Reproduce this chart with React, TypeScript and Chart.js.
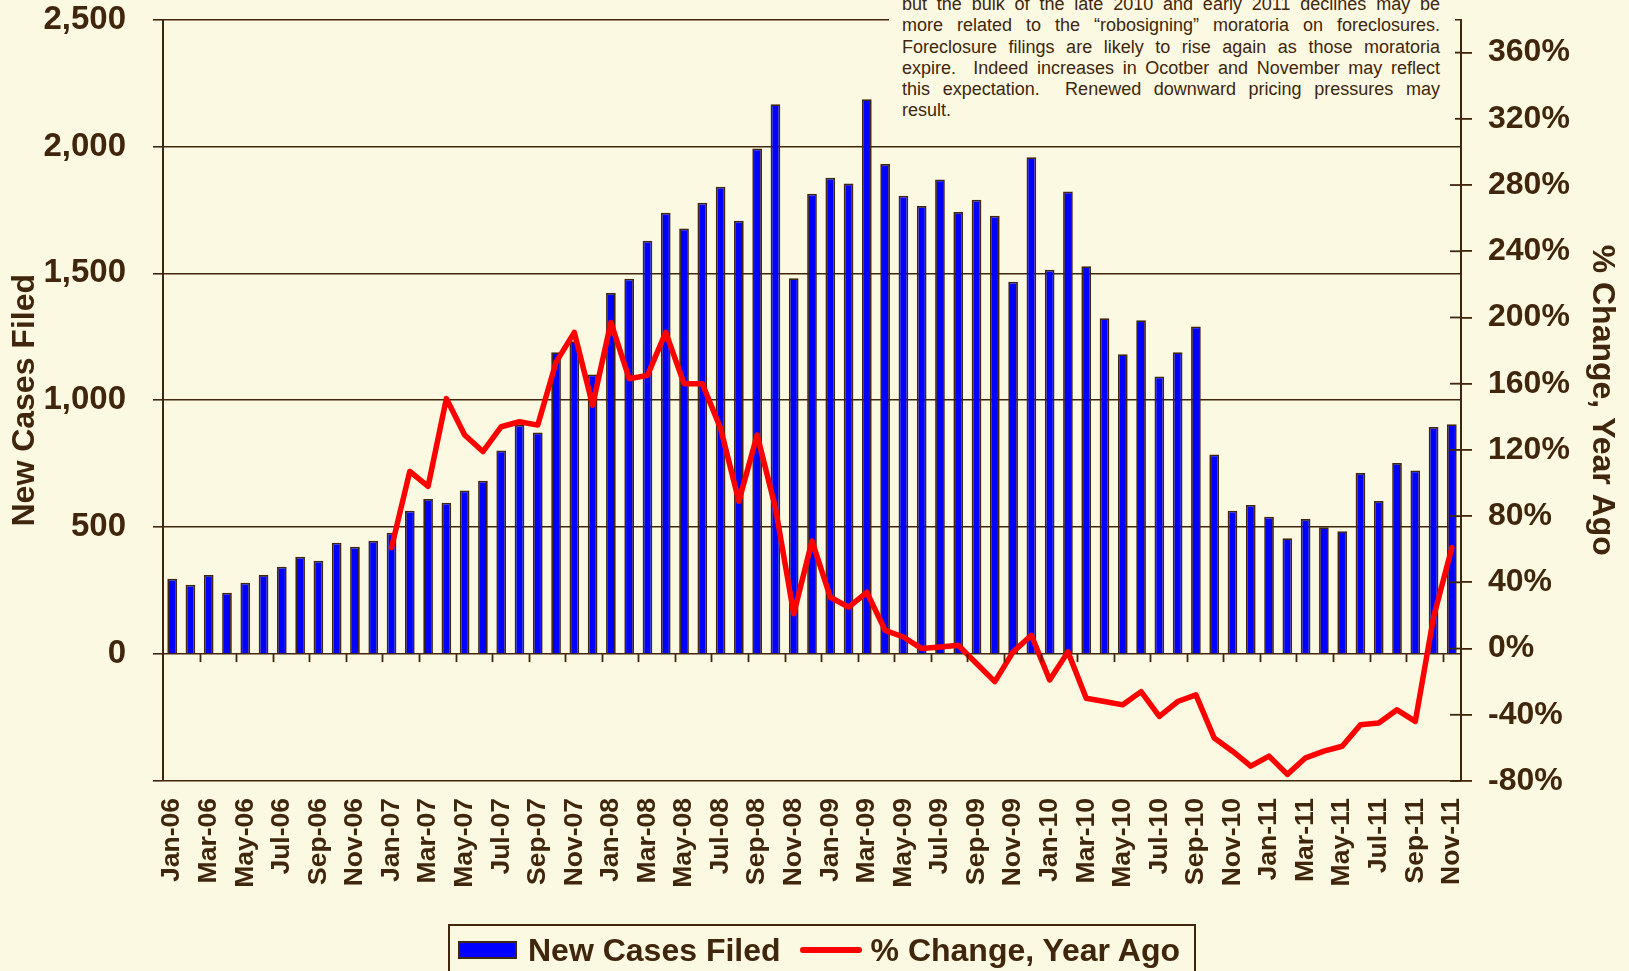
import React, { useEffect, useRef } from "react";
import { Chart, registerables } from "chart.js";

Chart.register(...registerables);

const months: string[] = [
  "Jan-06","Feb-06","Mar-06","Apr-06","May-06","Jun-06","Jul-06","Aug-06","Sep-06","Oct-06","Nov-06","Dec-06",
  "Jan-07","Feb-07","Mar-07","Apr-07","May-07","Jun-07","Jul-07","Aug-07","Sep-07","Oct-07","Nov-07","Dec-07",
  "Jan-08","Feb-08","Mar-08","Apr-08","May-08","Jun-08","Jul-08","Aug-08","Sep-08","Oct-08","Nov-08","Dec-08",
  "Jan-09","Feb-09","Mar-09","Apr-09","May-09","Jun-09","Jul-09","Aug-09","Sep-09","Oct-09","Nov-09","Dec-09",
  "Jan-10","Feb-10","Mar-10","Apr-10","May-10","Jun-10","Jul-10","Aug-10","Sep-10","Oct-10","Nov-10","Dec-10",
  "Jan-11","Feb-11","Mar-11","Apr-11","May-11","Jun-11","Jul-11","Aug-11","Sep-11","Oct-11","Nov-11",
];

const newCases: number[] = [
  297, 273, 312, 242, 281, 312, 344, 383, 368, 439, 423, 446,
  478, 565, 611, 596, 644, 683, 802, 903, 873, 1189, 1232, 1101,
  1423, 1479, 1628, 1739, 1677, 1778, 1841, 1707, 1992, 2166, 1481, 1814,
  1877, 1854, 2186, 1931, 1806, 1765, 1870, 1742, 1790, 1727, 1467, 1957,
  1514, 1822, 1528, 1323, 1181, 1315, 1094, 1189, 1291, 786, 565, 587,
  541, 456, 532, 500, 484, 713, 603, 753, 723, 895, 905,
];

const pctChange: (number | null)[] = [
  null, null, null, null, null, null, null, null, null, null, null, null,
  61, 107, 98, 151, 129, 119, 134, 137, 135, 173, 191, 147,
  197, 163, 165, 191, 160, 160, 133, 89, 129, 85, 21, 65,
  31, 25, 34, 11, 7, 0, 1, 2, -9, -20, -2, 8,
  -19, -2, -30, -32, -34, -26, -41, -32, -28, -54, -62, -71,
  -65, -76, -66, -62, -59, -46, -45, -37, -44, 19, 61,
];

const leftTicks: number[] = [-500, 0, 500, 1000, 1500, 2000, 2500];
const rightTicks: number[] = [-80, -40, 0, 40, 80, 120, 160, 200, 240, 280, 320, 360];
const rightMax = 380;

const noteLines: string[] = [
  "but the bulk of the late 2010 and early 2011 declines may be",
  "more related to the \u201crobosigning\u201d moratoria on foreclosures.",
  "Foreclosure filings are likely to rise again as those moratoria",
  "expire.  Indeed increases in Ocotber and November may reflect",
  "this expectation.  Renewed downward pricing pressures may",
  "result.",
];

const BG = "#FBF9E1";
const BROWN = "#40260C";
const FONT = "'Liberation Sans', Arial, Helvetica, sans-serif";

export default function App() {
  const canvasRef = useRef<HTMLCanvasElement | null>(null);

  useEffect(() => {
    const canvas = canvasRef.current;
    if (!canvas) return;

    const marksPlugin = {
      id: "marks",
      afterDraw(chart: any) {
        const ctx = chart.ctx;
        const x = chart.scales.x;
        const y = chart.scales.y;
        const y1 = chart.scales.y1;
        const n = months.length;
        const w = (x.right - x.left) / n;
        const y0 = y.getPixelForValue(0);
        ctx.save();
        ctx.strokeStyle = BROWN;
        ctx.lineWidth = 1.8;
        for (let k = 2; k < n; k += 2) {
          const bx = Math.round(x.left + k * w) + 0.5;
          ctx.beginPath();
          ctx.moveTo(bx, y0);
          ctx.lineTo(bx, y0 + 8);
          ctx.stroke();
        }
        // inner half of right axis tick marks
        y1.ticks.forEach((t: any) => {
          const py = y1.getPixelForValue(t.value);
          ctx.beginPath();
          ctx.moveTo(y1.left - 11, py);
          ctx.lineTo(y1.left, py);
          ctx.stroke();
        });
        ctx.restore();
      },
    };

    const chart = new Chart(canvas, {
      type: "bar",
      data: {
        labels: months,
        datasets: [
          {
            type: "line",
            label: "% Change, Year Ago",
            data: pctChange,
            yAxisID: "y1",
            borderColor: "#FF0000",
            backgroundColor: "#FF0000",
            borderWidth: 5.5,
            pointRadius: 0,
            tension: 0,
            borderJoinStyle: "round",
            borderCapStyle: "round",
            order: 1,
          } as any,
          {
            type: "bar",
            label: "New Cases Filed",
            data: newCases,
            yAxisID: "y",
            backgroundColor: "#0000FF",
            borderColor: BROWN,
            borderWidth: 1.75,
            barPercentage: 0.53,
            categoryPercentage: 1,
            order: 2,
          } as any,
        ],
      },
      options: {
        responsive: false,
        animation: false,
        devicePixelRatio: 1,
        layout: { padding: { top: 19.5, left: 0, right: 0, bottom: 0 } },
        plugins: {
          legend: { display: false },
          tooltip: { enabled: false },
        },
        scales: {
          x: {
            type: "category",
            offset: true,
            grid: { display: false, drawTicks: false },
            border: { display: false },
            ticks: {
              autoSkip: false,
              minRotation: 90,
              maxRotation: 90,
              padding: 17,
              color: BROWN,
              font: { family: FONT, size: 26.5, weight: "bold" },
              callback: function (this: any, val: any, idx: number) {
                return idx % 2 === 0 ? months[idx] : "";
              },
            },
            afterFit: (s: any) => {
              s.height = 190;
            },
          },
          y: {
            type: "linear",
            position: "left",
            min: leftTicks[0],
            max: leftTicks[leftTicks.length - 1],
            grid: { color: BROWN, lineWidth: 1.6, tickLength: 10, drawTicks: true },
            border: { display: true, color: BROWN, width: 2 },
            afterBuildTicks: (s: any) => {
              s.ticks = leftTicks.map((v) => ({ value: v }));
            },
            ticks: {
              padding: 27,
              color: BROWN,
              font: { family: FONT, size: 33, weight: "bold" },
              callback: (v: any) => (Number(v) < 0 ? "" : Number(v).toLocaleString("en-US")),
            },
            title: {
              display: true,
              text: "New Cases Filed",
              color: BROWN,
              font: { family: FONT, size: 32, weight: "bold" },
              padding: { top: 6, bottom: 0 },
            },
            afterFit: (s: any) => {
              s.width = 163;
              s.paddingTop = 0;
              s.paddingBottom = 0;
            },
          },
          y1: {
            type: "linear",
            position: "right",
            min: rightTicks[0],
            max: rightMax,
            grid: { drawOnChartArea: false, color: BROWN, lineWidth: 1.8, tickLength: 11, drawTicks: true },
            border: { display: true, color: BROWN, width: 2 },
            afterBuildTicks: (s: any) => {
              s.ticks = rightTicks.map((v) => ({ value: v }));
            },
            ticks: {
              padding: 16,
              autoSkip: false,
              color: BROWN,
              font: { family: FONT, size: 32, weight: "bold" },
              callback: (v: any) => `${Math.round(Number(v))}%`,
            },
            title: {
              display: true,
              text: "% Change, Year Ago",
              color: BROWN,
              font: { family: FONT, size: 32, weight: "bold" },
              padding: { top: 8, bottom: 0 },
            },
            afterFit: (s: any) => {
              s.width = 168;
              s.paddingTop = 0;
              s.paddingBottom = 0;
            },
          },
        },
      },
      plugins: [marksPlugin],
    });

    return () => {
      chart.destroy();
    };
  }, []);

  return (
    <div
      style={{
        position: "absolute",
        left: 0,
        top: 0,
        width: 1629,
        height: 971,
        overflow: "hidden",
        background: BG,
        fontFamily: FONT,
      }}
    >
      <canvas
        ref={canvasRef}
        width={1629}
        height={971}
        style={{ position: "absolute", left: 0, top: 0, width: 1629, height: 971, display: "block" }}
      />
      <div
        style={{
          position: "absolute",
          left: 889,
          top: -6,
          width: 538,
          padding: "0 15px 6px 13px",
          background: BG,
          color: BROWN,
          fontSize: 18,
          lineHeight: "21.3px",
        }}
      >
        {noteLines.map((l, i) => (
          <div
            key={i}
            style={{
              textAlign: "justify",
              textAlignLast: i === noteLines.length - 1 ? "left" : "justify",
              whiteSpace: "pre-wrap",
            } as any}
          >
            {l}
          </div>
        ))}
      </div>
      <div
        style={{
          position: "absolute",
          left: 448,
          top: 924,
          width: 744,
          height: 80,
          border: `2px solid ${BROWN}`,
          color: BROWN,
          fontWeight: "bold",
          fontSize: 32,
        }}
      >
        <div style={{ display: "flex", alignItems: "center", height: 48, whiteSpace: "nowrap" }}>
          <div
            style={{
              marginLeft: 8,
              width: 59,
              height: 18,
              flex: "none",
              boxSizing: "border-box",
              background: "#0000FF",
              border: `2px solid ${BROWN}`,
            }}
          />
          <span style={{ marginLeft: 11 }}>New Cases Filed</span>
          <div
            style={{
              marginLeft: 19,
              width: 62,
              height: 6,
              flex: "none",
              borderRadius: 3,
              background: "#FF0000",
            }}
          />
          <span style={{ marginLeft: 9 }}>% Change, Year Ago</span>
        </div>
      </div>
    </div>
  );
}
